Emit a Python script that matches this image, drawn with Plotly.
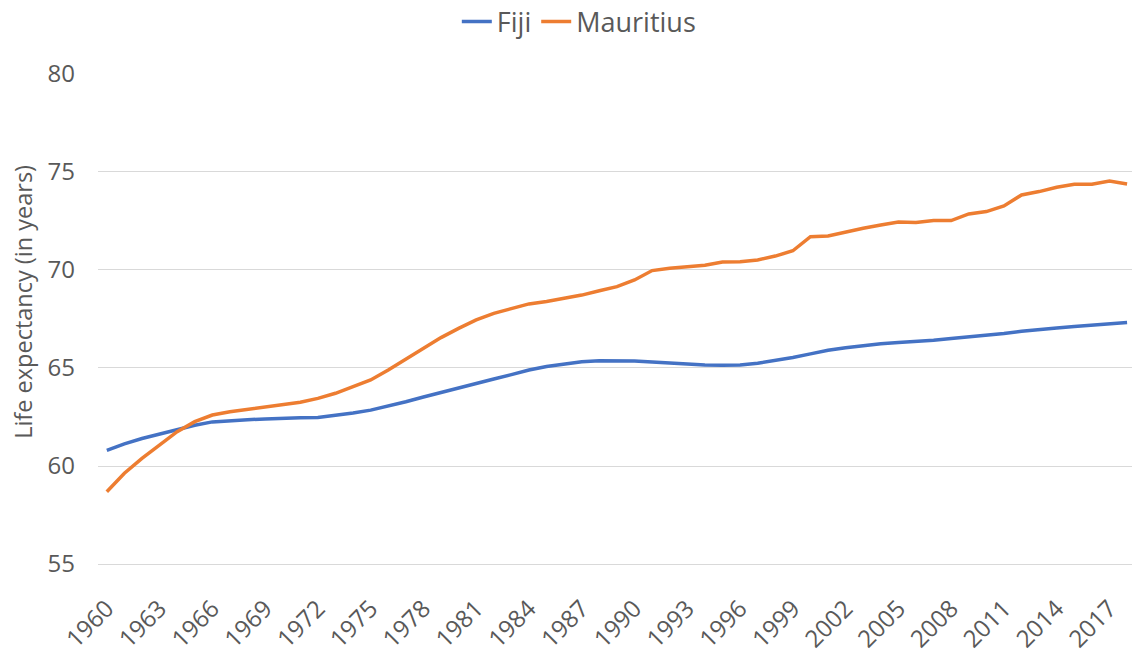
import plotly.graph_objects as go

years = list(range(1960, 2019))

fiji = [60.80, 61.13, 61.40, 61.63, 61.85, 62.08, 62.25, 62.32, 62.36, 62.40,
        62.45, 62.46, 62.48, 62.58, 62.70, 62.85, 63.05, 63.28, 63.52, 63.76,
        63.98, 64.22, 64.44, 64.66, 64.90, 65.08, 65.22, 65.32, 65.37, 65.38,
        65.36, 65.30, 65.24, 65.18, 65.15, 65.14, 65.15, 65.24, 65.38, 65.54,
        65.72, 65.90, 66.03, 66.14, 66.24, 66.30, 66.35, 66.42, 66.50, 66.58,
        66.66, 66.76, 66.87, 66.97, 67.04, 67.12, 67.19, 67.26, 67.32]

mauritius = [58.69, 59.63, 60.39, 61.07, 61.75, 62.26, 62.60, 62.77, 62.89, 63.03,
             63.11, 63.25, 63.45, 63.71, 64.05, 64.39, 64.90, 65.44, 66.00, 66.55,
             67.02, 67.45, 67.79, 68.04, 68.27, 68.39, 68.56, 68.72, 68.94, 69.15,
             69.49, 69.97, 70.09, 70.17, 70.24, 70.41, 70.42, 70.51, 70.71, 70.98,
             71.70, 71.73, 71.95, 72.13, 72.30, 72.45, 72.42, 72.52, 72.52, 72.86,
             72.98, 73.27, 73.83, 74.00, 74.22, 74.37, 74.37, 74.54, 74.39]

tick_years = list(range(1960, 2018, 3))
tick_text = [str(y) for y in tick_years]
y_ticks = [55, 60, 65, 70, 75, 80]
y_title = "Life expectancy (in years)"

FONT = "Open Sans"
GRAY = "#595959"

fig = go.Figure()
fig.add_trace(go.Scatter(x=years, y=fiji, mode="lines", name="Fiji",
                         line=dict(color="#4472C4", width=3.5)))
fig.add_trace(go.Scatter(x=years, y=mauritius, mode="lines", name="Mauritius",
                         line=dict(color="#ED7D31", width=3.5)))

fig.update_layout(
    width=1132, height=653,
    margin=dict(l=98, r=0, t=73, b=89),
    paper_bgcolor="white", plot_bgcolor="white",
    font=dict(family=FONT, size=23, color=GRAY),
    showlegend=True,
    legend=dict(orientation="h", x=0.465, xanchor="center",
                yref="container", y=0.9663, yanchor="middle",
                font=dict(family=FONT, size=27, color=GRAY), itemwidth=30,
                bgcolor="rgba(0,0,0,0)"),
    xaxis=dict(range=[1959.5, 2018.28], tickmode="array", tickvals=tick_years,
               ticktext=tick_text, tickangle=-45, showgrid=False, zeroline=False,
               showline=True, linecolor="#D9D9D9", linewidth=1, ticks="",
               tickfont=dict(family=FONT, size=24, color=GRAY), automargin=False,
               ticklabelstandoff=20),
    yaxis=dict(range=[55, 80.05], tickmode="array", tickvals=y_ticks,
               showgrid=True, gridcolor="#D9D9D9", gridwidth=1, zeroline=False,
               showline=False, ticks="", ticklabelstandoff=22,
               tickfont=dict(family=FONT, size=24, color=GRAY), automargin=False),
    annotations=[dict(text=y_title, textangle=-90, showarrow=False,
                      xref="paper", x=-0.0725, xanchor="center",
                      yref="paper", y=0.534, yanchor="middle",
                      font=dict(family=FONT, size=23.5, color=GRAY))],
)

fig.write_html("out.html", config={"displayModeBar": False},
               post_script="document.body.style.margin='0px';document.body.style.overflow='hidden';")
